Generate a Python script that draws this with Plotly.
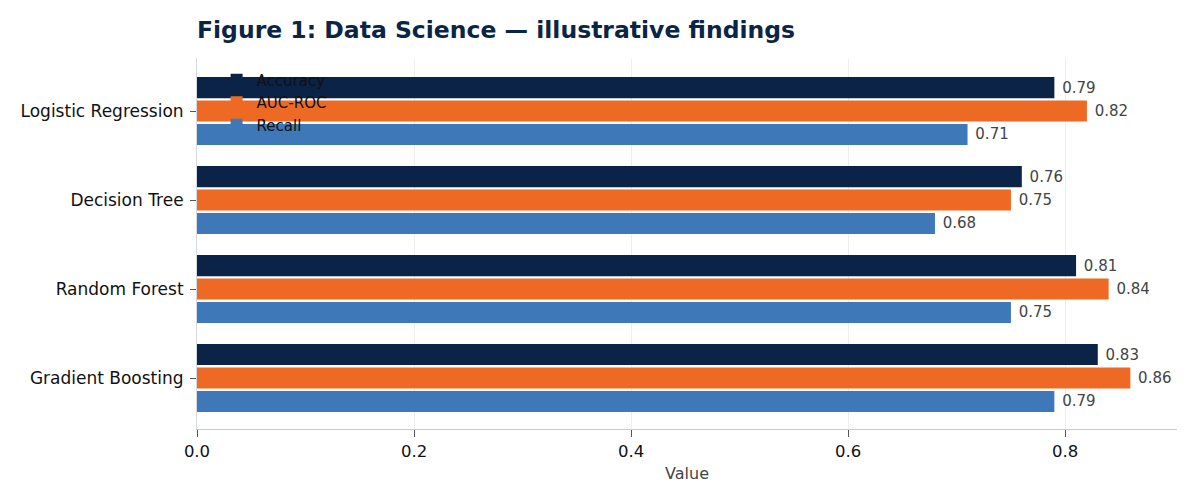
import plotly.graph_objects as go

# models and scores
models = ["Logistic Regression", "Decision Tree", "Random Forest", "Gradient Boosting"]
accuracy = [0.79, 0.76, 0.81, 0.83]
auc_roc = [0.82, 0.75, 0.84, 0.86]
recall = [0.71, 0.68, 0.75, 0.79]

series_names = ["Accuracy", "AUC-ROC", "Recall"]
colors = ["#0a2347", "#ee6a24", "#3e78b8"]

fig = go.Figure()
for name, vals, col in zip(series_names, [accuracy, auc_roc, recall], colors):
    fig.add_trace(go.Bar(
        y=models,
        x=vals,
        name=name,
        orientation="h",
        marker=dict(color=col, line=dict(width=0)),
        text=vals,
        texttemplate="\u00a0%{x:.2f}",
        textposition="outside",
        constraintext="none",
        cliponaxis=False,
        textfont=dict(size=15, color="#444444"),
    ))

# page body adds an 8px offset, so the figure is sized to fit inside it
fig.update_layout(
    width=1180,
    height=488,
    barmode="group",
    bargap=0.21,
    bargroupgap=0.1,
    plot_bgcolor="white",
    paper_bgcolor="white",
    font=dict(family="DejaVu Sans", size=16, color="#222222"),
    margin=dict(l=189, r=11, t=50, b=67),
    title=dict(
        text="<b>Figure 1: Data Science — illustrative findings</b>",
        x=0, xref="paper", xanchor="left",
        y=0.955, yref="container", yanchor="middle",
        font=dict(size=23.5, color="#0b2545"),
    ),
    legend=dict(
        x=0.02, y=0.985, xanchor="left", yanchor="top",
        bgcolor="rgba(0,0,0,0)",
        font=dict(size=15, color="#111111"),
        tracegroupgap=0,
    ),
)

fig.update_xaxes(
    range=[0, 0.903],
    tickvals=[0, 0.2, 0.4, 0.6, 0.8],
    ticktext=["0.0", "0.2", "0.4", "0.6", "0.8"],
    tickfont=dict(size=16.5, color="#111111"),
    showgrid=True, gridcolor="#eeeeee", gridwidth=1,
    showline=True, linecolor="#c5ced8", linewidth=1,
    ticks="outside", ticklen=7, tickcolor="#555555",
    zeroline=False,
    title=dict(text="Value", font=dict(size=16, color="#444444"), standoff=8),
)
fig.update_yaxes(
    range=[3.573, -0.596],
    tickfont=dict(size=17, color="#111111"),
    showgrid=False,
    showline=True, linecolor="#d5dbe2", linewidth=1,
    ticks="outside", ticklen=6, tickcolor="#555555",
    ticklabelstandoff=3,
)

fig.write_html("out.html")
